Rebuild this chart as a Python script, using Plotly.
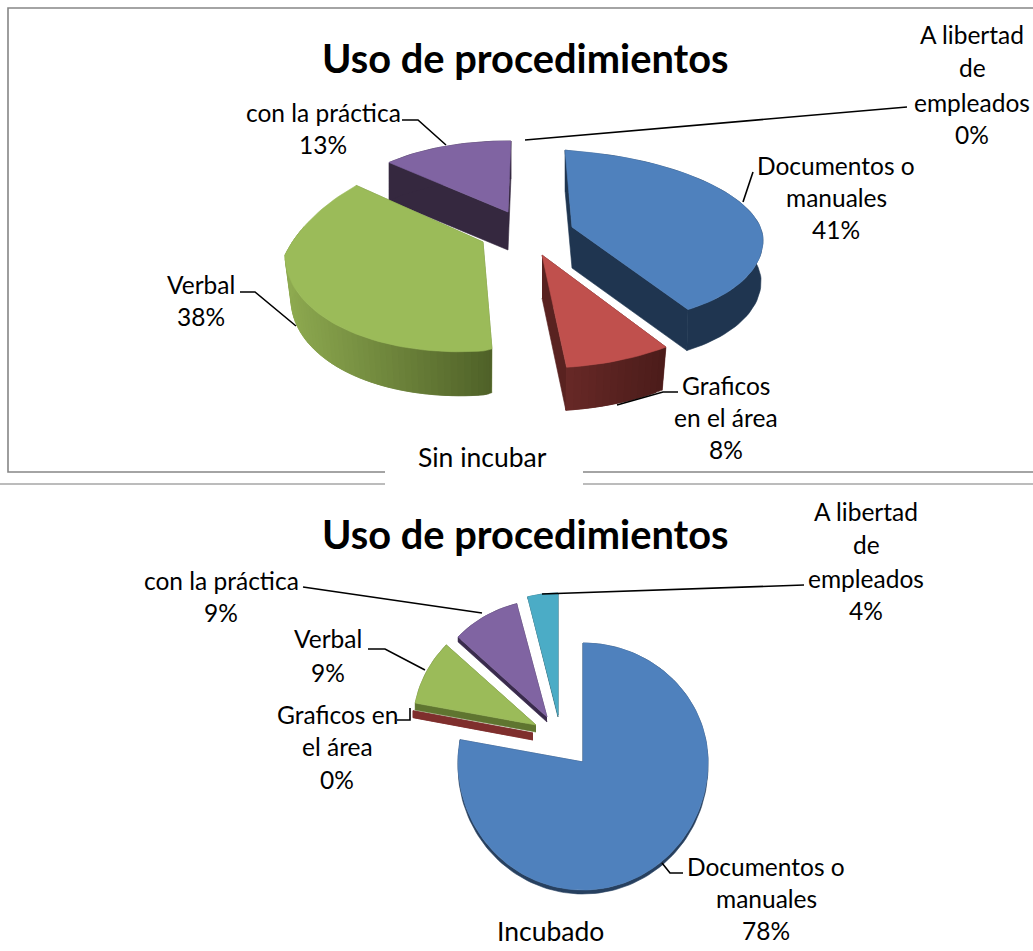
import math
import plotly.graph_objects as go

# ---- data ----
categories = ["Documentos o manuales", "Graficos en el área", "Verbal", "con la práctica", "A libertad de empleados"]
sin_incubar = [41, 8, 38, 13, 0]
incubado = [78, 0, 9, 9, 4]
chart_title = "Uso de procedimientos"
caption_top = "Sin incubar"
caption_bottom = "Incubado"

# ---- styling ----
TOP = ["#4f81bd", "#c0504d", "#9bbb59", "#8064a2", "#4bacc6"]
FONT = "Lato"
LABEL_SIZE = 24.5
CAPTION_SIZE = 26.5
TITLE_SIZE = 39.8

# wedge projection: apex position, radii (left/right of apex), rotation, thickness and side colours
geo_top = [
    dict(ax=572, ay=227, rl=80, rr=191, back=76, front=94, rot=-5, p=0, d=41, tilt=-13, taper=0.99, side=("#1f3550", "#1f3550")),
    dict(ax=542, ay=255, rl=214, rr=214, back=76, front=113, rot=-3, p=0, d=43, tilt=0, taper=0.97, side=("#672826", "#4b1c1a")),
    dict(ax=483, ay=242, rl=198, rr=78, back=123, front=109, rot=-3, p=0.3, d=44, tilt=13, taper=0.97, side=("#8eaa50", "#4f6128")),
    dict(ax=508, ay=212, rl=166, rr=166, back=71, front=71, rot=1, p=0, d=38, tilt=0, taper=1, side=("#35283f", "#35283f")),
    None,
]
geo_bottom = [
    dict(ax=583, ay=762, rl=125, rr=125, back=119, front=128, rot=0, p=0, d=4, tilt=0, taper=1, side=("#27405f", "#27405f")),
    dict(ax=533, ay=733, rl=122, rr=122, back=119, front=122, rot=0, p=0, d=7, tilt=0, taper=1, side=("#7f2f2d", "#7f2f2d")),
    dict(ax=536, ay=725, rl=123, rr=123, back=117, front=122, rot=0, p=0, d=7, tilt=0, taper=1, side=("#5f7530", "#5f7530")),
    dict(ax=547, ay=717, rl=122, rr=122, back=117, front=122, rot=0, p=0, d=5, tilt=0, taper=1, side=("#3a2b4d", "#3a2b4d")),
    dict(ax=558, ay=715, rl=122, rr=122, back=122, front=122, rot=0, p=0, d=2, tilt=0, taper=1, side=("#205867", "#205867")),
]
order_top = [3, 2, 0, 1]
order_bottom = [0, 1, 2, 3, 4]


def rim(g, deg):
    t = math.radians(deg + g["rot"])
    s, c = math.sin(t), math.cos(t)
    w = 1 + g["p"] * max(c, 0)
    y = g["back"] * c / w if c > 0 else g["front"] * c
    r = g["rr"] if s > 0 else g["rl"]
    return g["ax"] + r * s / w, g["ay"] - y - g["tilt"] * s


def blend(a, b, t):
    pa = [int(a[i:i + 2], 16) for i in (1, 3, 5)]
    pb = [int(b[i:i + 2], 16) for i in (1, 3, 5)]
    return "#%02x%02x%02x" % tuple(round(u + (v - u) * t) for u, v in zip(pa, pb))


fig = go.Figure()


def poly(xs, ys, color, name):
    fig.add_trace(go.Scatter(x=xs, y=ys, mode="lines", fill="toself", fillcolor=color,
                             line=dict(color=color, width=0.6), hoverinfo="skip",
                             showlegend=False, name=name))


def draw_pie(values, geos, order):
    spans = []
    acc = 0
    for v in values:
        spans.append((acc / sum(values) * 360, (acc + v) / sum(values) * 360))
        acc += v
    for i in order:
        g = geos[i]
        a0, a1 = spans[i]
        n = max(2, int((a1 - a0) / 2))
        pts = [rim(g, a0 + (a1 - a0) * k / n) for k in range(n + 1)]
        ax, ay, d, tp = g["ax"], g["ay"], g["d"], g["taper"]
        low = [(ax + (p[0] - ax) * tp, p[1] + d) for p in pts]
        c0, c1 = g["side"]
        # radial faces
        for px, py in (pts[0], pts[-1]):
            poly([ax, px, ax + (px - ax) * tp, ax], [ay, py, py + d, ay + d],
                 blend(c0, c1, 0.5) if c0 != c1 else c0, categories[i])
        # outer wall
        if c0 == c1:
            poly([p[0] for p in pts] + [p[0] for p in reversed(low)],
                 [p[1] for p in pts] + [p[1] for p in reversed(low)], c0, categories[i])
        else:
            xmin, xmax = min(p[0] for p in pts), max(p[0] for p in pts)
            for k in range(n):
                if math.cos(math.radians(a0 + (a1 - a0) * k / n + g["rot"])) > 0.2:
                    continue
                e = min(k + 2, n)
                t = ((pts[k][0] + pts[k + 1][0]) / 2 - xmin) / (xmax - xmin)
                poly([p[0] for p in pts[k:e + 1]] + [p[0] for p in reversed(low[k:e + 1])],
                     [p[1] for p in pts[k:e + 1]] + [p[1] for p in reversed(low[k:e + 1])],
                     blend(c0, c1, t), categories[i])
        # top face
        if values[i] > 0:
            poly([ax] + [p[0] for p in pts] + [ax], [ay] + [p[1] for p in pts] + [ay], TOP[i], categories[i])


draw_pie(sin_incubar, geo_top, order_top)
draw_pie(incubado, geo_bottom, order_bottom)

# leader lines
leaders = [
    [(402, 120), (418, 120), (446, 145)],
    [(525, 140), (900, 108), (907, 107)],
    [(743, 202), (753, 172)],
    [(617, 405), (663, 392), (678, 392)],
    [(240, 292), (255, 292), (296, 326)],
    [(303, 587), (482, 613)],
    [(804, 585), (542, 594)],
    [(368, 649), (385, 649), (425, 670)],
    [(397, 720), (410, 720), (410, 708)],
    [(662, 863), (670, 873), (683, 873)],
]
for seg in leaders:
    fig.add_trace(go.Scatter(x=[p[0] for p in seg], y=[p[1] for p in seg], mode="lines",
                             line=dict(color="#000000", width=1.6), hoverinfo="skip", showlegend=False))

# frame rules
frames = [
    ([1033, 8, 8, 385], [8, 8, 472, 472], "#868686"),
    ([583, 1033], [472, 472], "#868686"),
    ([0, 385], [484, 484], "#a6a6a6"),
    ([583, 1033], [484, 484], "#a6a6a6"),
]
for xs, ys, col in frames:
    fig.add_trace(go.Scatter(x=xs, y=ys, mode="lines", line=dict(color=col, width=1.6),
                             hoverinfo="skip", showlegend=False))

annotations = []


def text(x, y, s, size=LABEL_SIZE, bold=False):
    annotations.append(dict(x=x, y=y, xref="x", yref="y", text=f"<b>{s}</b>" if bold else s,
                            showarrow=False, xanchor="center", yanchor="middle",
                            font=dict(family=FONT, size=size, color="#000000")))


def label(x, ys, lines, value):
    for y, s in zip(ys, lines + [f"{value}%"]):
        text(x, y, s)


text(525, 57, chart_title, TITLE_SIZE, True)
text(525, 533, chart_title, TITLE_SIZE, True)
label(972, [34, 67, 102, 134], ["A libertad", "de", "empleados"], sin_incubar[4])
label(323, [112, 144], ["con la práctica"], sin_incubar[3])
label(836, [165, 197, 229], ["Documentos o", "manuales"], sin_incubar[0])
label(726, [385, 417, 449], ["Graficos", "en el área"], sin_incubar[1])
label(201, [284, 316], ["Verbal"], sin_incubar[2])
text(482, 457, caption_top, CAPTION_SIZE)
label(866, [511, 544, 578, 610], ["A libertad", "de", "empleados"], incubado[4])
label(221, [580, 612], ["con la práctica"], incubado[3])
label(328, [638, 672], ["Verbal"], incubado[2])
label(337, [714, 746, 779], ["Graficos en", "el área"], incubado[1])
label(766, [866, 898, 930], ["Documentos o", "manuales"], incubado[0])
text(550, 931, caption_bottom, CAPTION_SIZE)

fig.update_layout(
    width=1033, height=951, margin=dict(l=0, r=0, t=0, b=0),
    paper_bgcolor="#ffffff", plot_bgcolor="#ffffff",
    xaxis=dict(range=[0, 1033], visible=False, fixedrange=True),
    yaxis=dict(range=[951, 0], visible=False, fixedrange=True),
    annotations=annotations, showlegend=False,
)
fig.write_html("out.html", config=dict(displayModeBar=False),
               post_script="document.body.style.margin='0';document.body.style.overflow='hidden';")
